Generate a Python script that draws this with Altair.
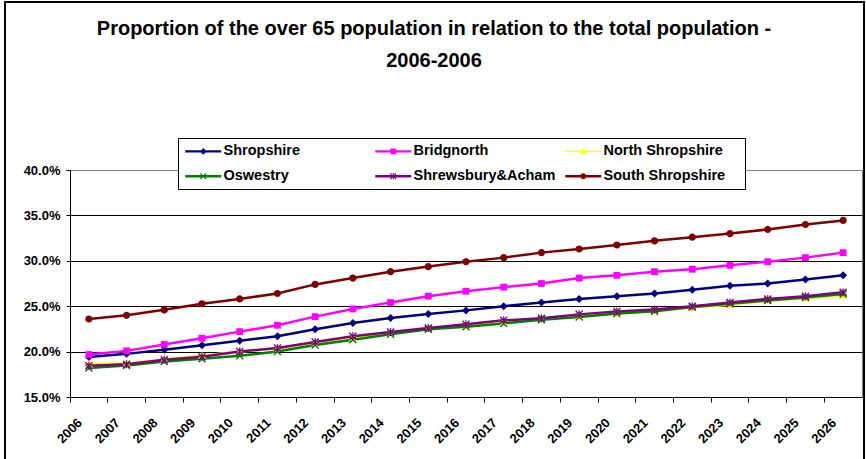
import math
import altair as alt
import pandas as pd

years = [str(y) for y in range(2006, 2027)]
series_names = ["Shropshire", "Bridgnorth", "North Shropshire", "Oswestry",
                "Shrewsbury&Acham", "South Shropshire"]

shropshire = [19.4, 19.75, 20.2, 20.7, 21.2, 21.7, 22.45, 23.15, 23.7, 24.13, 24.54,
              25.0, 25.4, 25.8, 26.1, 26.4, 26.8, 27.25, 27.5, 27.94, 28.4]
bridgnorth = [19.68, 20.08, 20.78, 21.47, 22.2, 22.9, 23.85, 24.7, 25.4, 26.1, 26.65,
              27.1, 27.5, 28.1, 28.4, 28.8, 29.07, 29.5, 29.9, 30.35, 30.9]
north_shropshire = [18.6, 18.7, 19.15, 19.55, 20.0, 20.35, 20.95, 21.55, 22.05, 22.5, 22.85,
                    23.25, 23.55, 23.9, 24.2, 24.45, 24.85, 25.15, 25.6, 25.9, 26.2]
oswestry = [18.2, 18.47, 18.9, 19.2, 19.55, 20.0, 20.73, 21.3, 21.9, 22.45, 22.75,
            23.1, 23.5, 23.8, 24.2, 24.45, 24.9, 25.27, 25.64, 25.97, 26.33]
shrewsbury = [18.45, 18.6, 19.1, 19.43, 20.0, 20.4, 21.06, 21.7, 22.16, 22.6, 23.0,
              23.44, 23.66, 24.1, 24.43, 24.65, 25.0, 25.4, 25.8, 26.1, 26.55]
south_shropshire = [23.59, 24.0, 24.6, 25.27, 25.8, 26.4, 27.4, 28.1, 28.8, 29.36, 29.9,
                    30.35, 30.9, 31.3, 31.74, 32.2, 32.6, 33.0, 33.45, 34.0, 34.45]

colors = ["#000080", "#FF00FF", "#FFFF00", "#008000", "#800080", "#800000"]
y_ticks = [15, 20, 25, 30, 35, 40]

all_values = [shropshire, bridgnorth, north_shropshire, oswestry, shrewsbury, south_shropshire]
rows = []
for name, vals in zip(series_names, all_values):
    for yr, v in zip(years, vals):
        rows.append({"year": yr, "series": name, "value": v})
df = pd.DataFrame(rows)

# ---- marker shapes (unit coordinates) ----
def fmt(v):
    return ("%.3f" % v).rstrip("0").rstrip(".")

def poly(pts):
    return "M" + "L".join(fmt(x) + "," + fmt(y) for x, y in pts) + "Z"

def circle(rad):
    return poly([(rad * math.cos(2 * math.pi * k / 16), rad * math.sin(2 * math.pi * k / 16))
                 for k in range(16)])

def shapes(s):
    diamond = poly([(0, -s), (s, 0), (0, s), (-s, 0)])
    square = poly([(-0.85 * s, -0.85 * s), (0.85 * s, -0.85 * s), (0.85 * s, 0.85 * s), (-0.85 * s, 0.85 * s)])
    tri = poly([(0, -s), (s, 0.8 * s), (-s, 0.8 * s)])
    w = 0.25 * s
    arm1 = poly([(-s, -s + w), (-s + w, -s), (s, s - w), (s - w, s)])
    arm2 = poly([(s - w, -s), (s, -s + w), (-s + w, s), (-s, s - w)])
    bar = poly([(-0.15 * s, -s), (0.15 * s, -s), (0.15 * s, s), (-0.15 * s, s)])
    return [diamond, square, tri, arm1 + arm2, arm1 + arm2 + bar, circle(0.9 * s)]

data_shapes = shapes(1.0)
line_thick = [0.4, 0.4, 0.2, 0.4, 0.4, 0.4]
legend_shapes = [poly([(-6, -t), (6, -t), (6, t), (-6, t)]) + p
                 for t, p in zip(line_thick, shapes(1.1))]

FONT = "Liberation Sans"

x_enc = alt.X("year:O", title=None,
              scale=alt.Scale(type="band", paddingInner=0, paddingOuter=0),
              axis=alt.Axis(labelAngle=-45, labelFont=FONT, labelFontSize=13,
                            labelFontWeight="bold", labelColor="black",
                            domainColor="black", tickColor="black", tickSize=5,
                            bandPosition=0, labelOffset=-13, labelPadding=14, grid=False))
y_enc = alt.Y("value:Q", title=None,
              scale=alt.Scale(domain=[15, 40], nice=False, zero=False),
              axis=alt.Axis(values=y_ticks, labelExpr="format(datum.value, '.1f') + '%'",
                            labelFont=FONT, labelFontSize=13, labelFontWeight="bold",
                            labelColor="black", domainColor="black", tickColor="black",
                            tickSize=4, labelPadding=6,
                            gridColor={"condition": {"test": "datum.value >= 39.9", "value": "#808080"},
                                       "value": "black"},
                            gridOpacity=1, gridWidth=1))

color_scale = alt.Scale(domain=series_names, range=colors)

base = alt.Chart(df)

lines = base.mark_line(strokeWidth=2.5).encode(
    x=x_enc, y=y_enc,
    color=alt.Color("series:N", scale=color_scale, legend=None),
    detail="series:N",
)

points = base.mark_point(filled=True, opacity=1, size=64, strokeWidth=0).encode(
    x=x_enc, y=y_enc,
    color=alt.Color("series:N", scale=color_scale, legend=None),
    shape=alt.Shape("series:N", scale=alt.Scale(domain=series_names, range=data_shapes), legend=None),
)

legend_layer = base.transform_filter("false").mark_point(
    filled=True, opacity=1, size=36, strokeWidth=0
).encode(
    color=alt.Color("series:N", scale=color_scale,
                    legend=alt.Legend(title=" ", titleOrient="right", titlePadding=14,
                                      titleFontSize=12,
                                      orient="none", legendX=108, legendY=-32,
                                      direction="horizontal",
                                      columns=3, gridAlign="all", columnPadding=8,
                                      rowPadding=10, padding=6,
                                      strokeColor="black", fillColor="white",
                                      labelFont=FONT, labelFontSize=14.5, labelFontWeight="bold",
                                      labelColor="black", symbolSize=36, symbolOffset=12,
                                      labelOffset=13, symbolStrokeWidth=0, symbolOpacity=1)),
    shape=alt.Shape("series:N", scale=alt.Scale(domain=series_names, range=legend_shapes)),
)

frame = alt.Chart(pd.DataFrame({"f": [0]})).mark_rect(
    filled=False, stroke="black", strokeWidth=2
).encode(x=alt.value(-65), x2=alt.value(794), y=alt.value(-168), y2=alt.value(330))

chart = alt.layer(frame, lines, points, legend_layer).resolve_scale(
    color="independent", shape="independent"
).properties(
    width=792, height=227,
    autosize=alt.AutoSizeParams(type="none"),
    padding={"left": 70, "top": 170, "right": 4, "bottom": 62},
    background="white",
    title=alt.TitleParams(
        text=["Proportion of the over 65 population in relation to the total population -",
              "2006-2006"],
        font=FONT, fontSize=20, fontWeight="bold", color="black",
        anchor="middle", dx=-32, offset=-70, lineHeight=32),
).configure_view(stroke="#808080", strokeWidth=1)

chart.save("out.html", embed_options={"renderer": "svg", "actions": False})
